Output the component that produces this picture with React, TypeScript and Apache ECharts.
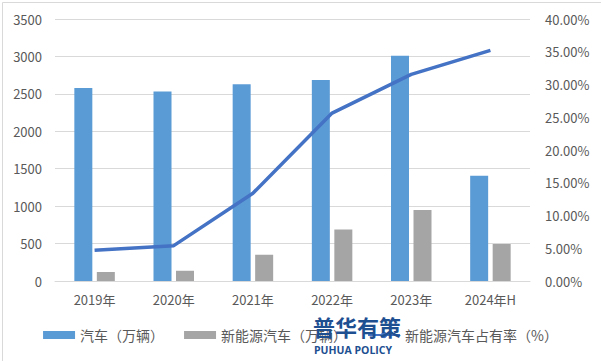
import React, { useEffect, useRef } from "react";
import * as echarts from "echarts";

const categories = ["2019年", "2020年", "2021年", "2022年", "2023年", "2024年H"];
const carSales = [2576.9, 2531.1, 2627.5, 2686.4, 3009.4, 1404.7];
const nevSales = [120.6, 136.7, 352.1, 688.7, 949.5, 494.4];
const nevShare = [4.68, 5.4, 13.4, 25.64, 31.55, 35.2];
const seriesNames = ["汽车（万辆）", "新能源汽车（万辆）", "新能源汽车占有率（%）"];

const FONT = "'Noto Sans CJK SC', 'Open Sans', sans-serif";

export default function App() {
  const ref = useRef<HTMLDivElement>(null);
  useEffect(() => {
    document.body.style.margin = "0";
    const chart = echarts.init(ref.current!, null, { renderer: "svg" });
    chart.setOption({
      animation: false,
      backgroundColor: "#ffffff",
      textStyle: { fontFamily: FONT },
      grid: { left: 55, right: 71, top: 19, bottom: 80, containLabel: false },
      legend: {
        left: "center",
        bottom: 14,
        itemWidth: 32,
        itemHeight: 8,
        itemGap: 20,
        textStyle: { fontSize: 14, color: "#595959", fontFamily: FONT },
        data: [
          { name: seriesNames[0], icon: "rect" },
          { name: seriesNames[1], icon: "rect" },
          { name: seriesNames[2] },
        ],
      },
      xAxis: {
        type: "category",
        data: categories,
        axisLine: { lineStyle: { color: "#d9d9d9" } },
        axisTick: { show: false },
        axisLabel: { color: "#595959", fontSize: 13, margin: 12 },
      },
      yAxis: [
        {
          type: "value",
          min: 0,
          max: 3500,
          interval: 500,
          axisLine: { show: false },
          axisTick: { show: false },
          splitLine: { lineStyle: { color: "#d9d9d9" } },
          axisLabel: {
            color: "#595959",
            fontSize: 13,
            margin: 13,
            formatter: (v: number) => String(v),
          },
        },
        {
          type: "value",
          min: 0,
          max: 40,
          interval: 5,
          axisLine: { show: false },
          axisTick: { show: false },
          splitLine: { show: false },
          axisLabel: {
            color: "#595959",
            fontSize: 13,
            margin: 15,
            formatter: (v: number) => v.toFixed(2) + "%",
          },
        },
      ],
      series: [
        {
          name: seriesNames[0],
          type: "bar",
          data: carSales,
          barWidth: 18,
          barGap: "25%",
          itemStyle: { color: "#5B9BD5" },
        },
        {
          name: seriesNames[1],
          type: "bar",
          data: nevSales,
          barWidth: 18,
          barGap: "25%",
          itemStyle: { color: "#A5A5A5" },
        },
        {
          name: seriesNames[2],
          type: "line",
          yAxisIndex: 1,
          data: nevShare,
          symbol: "none",
          lineStyle: { color: "#4472C4", width: 3.5 },
          itemStyle: { color: "#4472C4" },
        },
      ],
      graphic: [
        {
          type: "rect",
          left: 0,
          top: 0,
          shape: { width: 600, height: 360 },
          style: { fill: "none", stroke: "#d9d9d9", lineWidth: 1 },
          silent: true,
        },
        {
          type: "text",
          left: 313,
          top: 315,
          z: 100,
          style: {
            text: "普华有策",
            fontSize: 22,
            fontWeight: "bold",
            fill: "#1d4f91",
            fontFamily: FONT,
          },
        },
        {
          type: "text",
          left: 314,
          top: 344,
          z: 100,
          style: {
            text: "PUHUA POLICY",
            fontSize: 10.5,
            fontWeight: "bold",
            fill: "#1d4f91",
            fontFamily: "'Open Sans', sans-serif",
          },
        },
      ],
    });
    return () => chart.dispose();
  }, []);
  return <div ref={ref} style={{ width: 601, height: 361 }} />;
}
